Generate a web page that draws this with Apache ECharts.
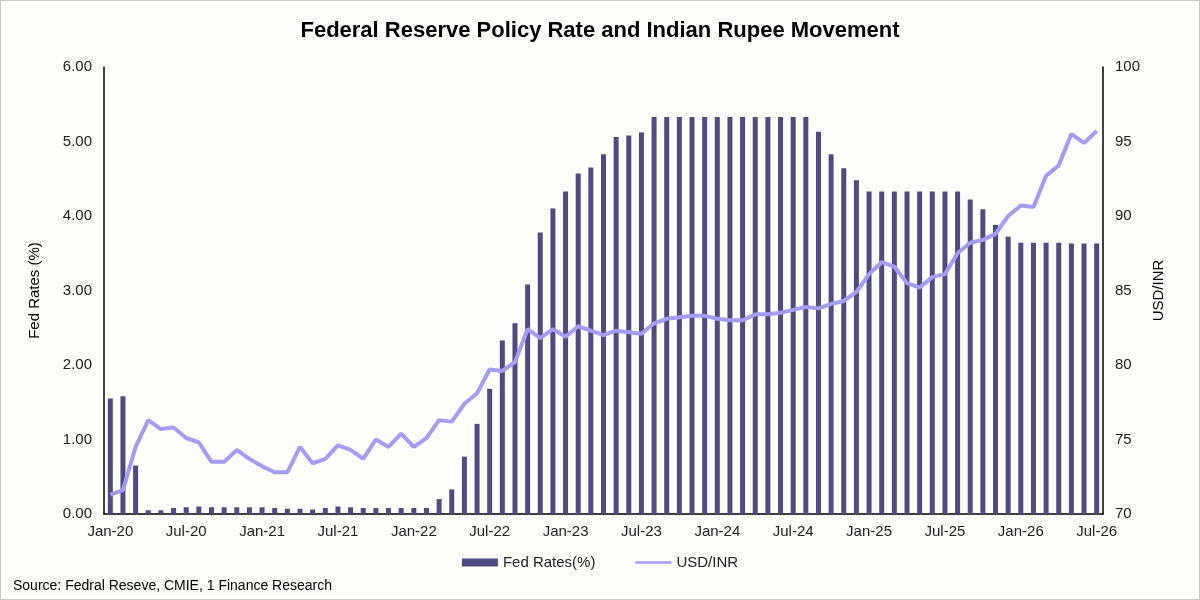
<!DOCTYPE html>
<html>
<head>
<meta charset="utf-8">
<script src="https://cdn.jsdelivr.net/npm/echarts@6/dist/echarts.min.js"></script>
<style>
  html, body { margin: 0; padding: 0; background: #fff; }
  #chart { width: 1198px; height: 598px; border: 1px solid #c8c8c8; background: #fffdf9; }
</style>
</head>
<body>
<div id="chart"></div>
<script>
var monthNames = ['Jan', 'Feb', 'Mar', 'Apr', 'May', 'Jun', 'Jul', 'Aug', 'Sep', 'Oct', 'Nov', 'Dec'];
var months = [];
for (var y = 20; y <= 26; y++) {
    for (var m = 0; m < 12; m++) {
        if (y === 26 && m > 6) break;
        months.push(monthNames[m] + '-' + y);
    }
}

var fedRates = [
    1.55, 1.58, 0.65, 0.05, 0.05, 0.08, 0.09, 0.10, 0.09, 0.09, 0.09, 0.09,
    0.09, 0.08, 0.07, 0.07, 0.06, 0.08, 0.10, 0.09, 0.08, 0.08, 0.08, 0.08,
    0.08, 0.08, 0.20, 0.33, 0.77, 1.21, 1.68, 2.33, 2.56, 3.08, 3.78, 4.10,
    4.33, 4.57, 4.65, 4.83, 5.06, 5.08, 5.12, 5.33, 5.33, 5.33, 5.33, 5.33,
    5.33, 5.33, 5.33, 5.33, 5.33, 5.33, 5.33, 5.33, 5.13, 4.83, 4.64, 4.48,
    4.33, 4.33, 4.33, 4.33, 4.33, 4.33, 4.33, 4.33, 4.22, 4.09, 3.88, 3.72,
    3.64, 3.64, 3.64, 3.64, 3.63, 3.63, 3.63
];

var usdInr = [
    71.3, 71.6, 74.5, 76.3, 75.7, 75.8, 75.1, 74.8, 73.5, 73.5, 74.3, 73.7,
    73.2, 72.8, 72.8, 74.5, 73.4, 73.7, 74.6, 74.3, 73.7, 75.0, 74.5, 75.4,
    74.5, 75.1, 76.3, 76.2, 77.4, 78.1, 79.7, 79.6, 80.2, 82.4, 81.8, 82.4,
    81.9, 82.6, 82.3, 82.0, 82.3, 82.2, 82.1, 82.8, 83.1, 83.2, 83.3, 83.3,
    83.1, 83.0, 83.0, 83.4, 83.4, 83.5, 83.7, 83.9, 83.8, 84.1, 84.3, 84.9,
    86.1, 86.9, 86.6, 85.5, 85.2, 85.9, 86.1, 87.5, 88.2, 88.4, 88.8, 90.0,
    90.7, 90.6, 92.7, 93.4, 95.5, 94.9, 95.7
];

var chart = echarts.init(document.getElementById('chart'));
var font = 'Liberation Sans, Arial, sans-serif';
var option = {
    backgroundColor: '#fffdf9',
    textStyle: { fontFamily: font },
    title: {
        text: 'Federal Reserve Policy Rate and Indian Rupee Movement',
        left: 'center',
        top: 14,
        textStyle: { fontSize: 22, fontWeight: 'bold', color: '#000', fontFamily: font }
    },
    legend: {
        bottom: 24,
        left: 'center',
        itemGap: 40,
        textStyle: { fontSize: 15, color: '#222' },
        data: [
            { name: 'Fed Rates(%)', icon: 'rect', itemStyle: { color: '#4f4a80' } },
            { name: 'USD/INR', icon: 'path://M0,0 L40,0 L40,3 L0,3 Z' }
        ],
        itemWidth: 36,
        itemHeight: 8
    },
    graphic: [{
        type: 'text',
        left: 12,
        bottom: 6,
        style: { text: 'Source: Fedral Reseve, CMIE, 1 Finance Research', font: '14px ' + font, fill: '#000' }
    }],
    grid: { left: 103, right: 96, top: 66, bottom: 85 },
    xAxis: {
        type: 'category',
        data: months,
        axisLine: { lineStyle: { color: '#000', width: 1.5 } },
        axisTick: { interval: 5, alignWithLabel: true, inside: false, lineStyle: { color: '#000' } },
        axisLabel: { interval: 5, fontSize: 15, color: '#222', margin: 10 }
    },
    yAxis: [{
        type: 'value',
        min: 0, max: 6, interval: 1,
        name: 'Fed Rates (%)',
        nameLocation: 'middle',
        nameGap: 62,
        nameTextStyle: { fontSize: 15, color: '#000' },
        axisLine: { show: true, lineStyle: { color: '#000', width: 1.5 } },
        axisTick: { show: false },
        splitLine: { show: false },
        axisLabel: { formatter: function (v) { return v.toFixed(2); }, fontSize: 15, color: '#222', margin: 12 }
    }, {
        type: 'value',
        min: 70, max: 100, interval: 5,
        name: 'USD/INR',
        nameLocation: 'middle',
        nameGap: 48,
        nameRotate: 90,
        nameTextStyle: { fontSize: 15, color: '#000' },
        axisLine: { show: true, lineStyle: { color: '#000', width: 1.5 } },
        axisTick: { show: false },
        splitLine: { show: false },
        axisLabel: { fontSize: 15, color: '#222', margin: 12 }
    }],
    series: [{
        name: 'Fed Rates(%)',
        type: 'bar',
        data: fedRates,
        barWidth: 5,
        itemStyle: { color: '#4f4a80' }
    }, {
        name: 'USD/INR',
        type: 'line',
        yAxisIndex: 1,
        data: usdInr,
        showSymbol: false,
        symbol: 'none',
        lineStyle: { color: '#a49cf2', width: 4 },
        itemStyle: { color: '#a49cf2' }
    }]
};
chart.setOption(option);
</script>
</body>
</html>
